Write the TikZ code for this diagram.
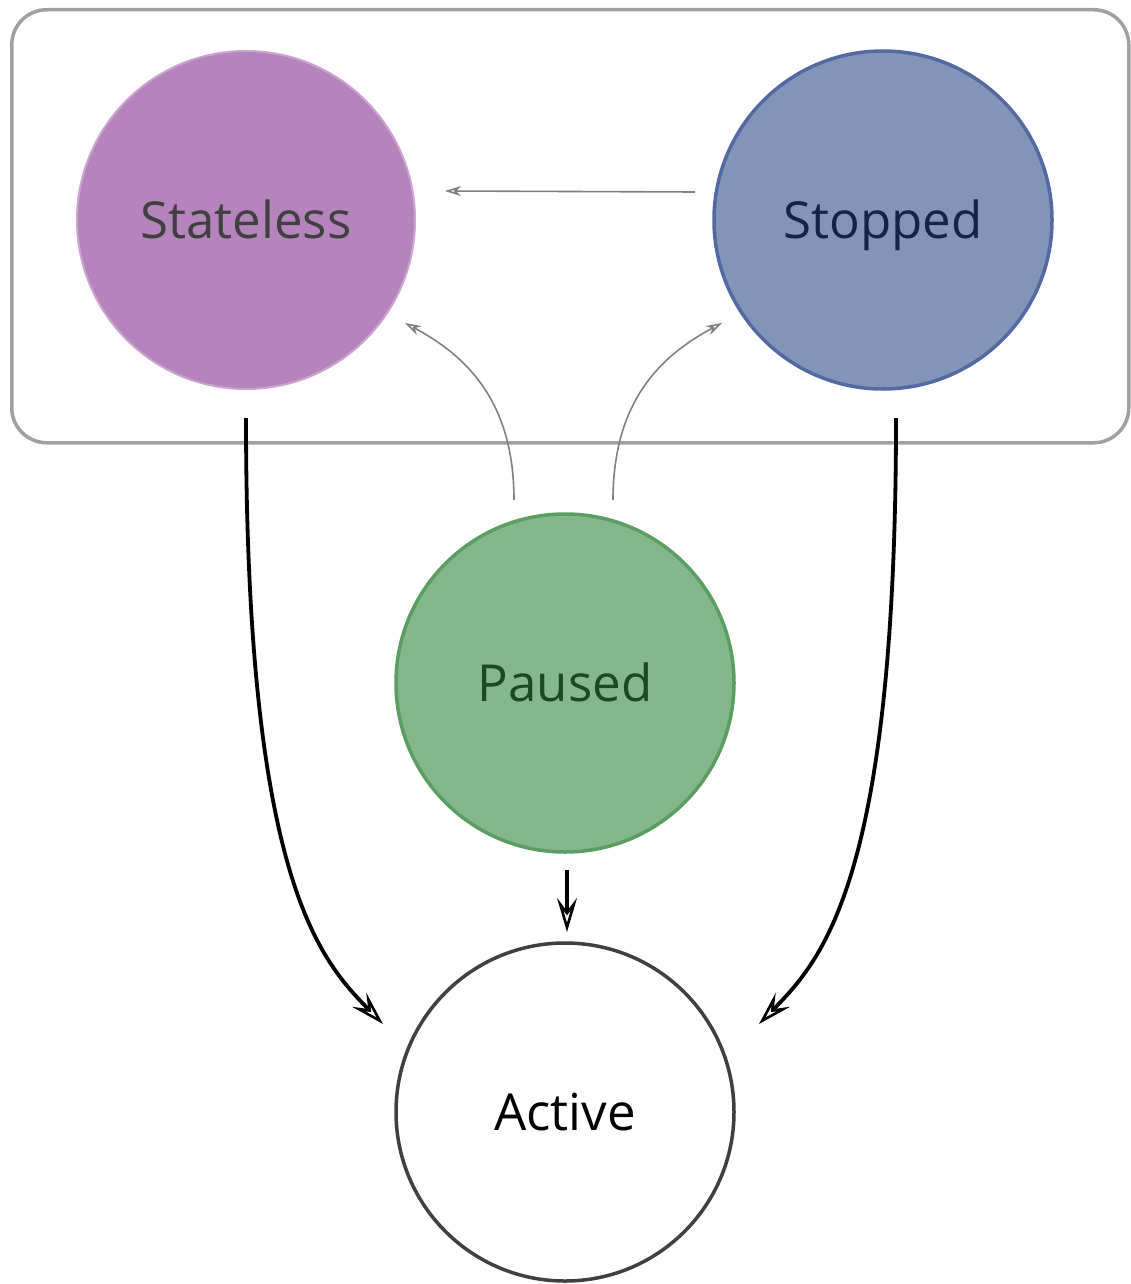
\documentclass[tikz,border=0pt]{standalone}
\usepackage{fontspec}
\setmainfont{Open Sans}
\usetikzlibrary{arrows.meta}
\definecolor{slFill}{HTML}{B684BC}
\definecolor{slDraw}{HTML}{CBA4CF}
\definecolor{slText}{HTML}{404040}
\definecolor{stFill}{HTML}{8294B8}
\definecolor{stDraw}{HTML}{5469A1}
\definecolor{stText}{HTML}{13244A}
\definecolor{paFill}{HTML}{84B78B}
\definecolor{paDraw}{HTML}{5A9E62}
\definecolor{paText}{HTML}{1B4A21}
\definecolor{acDraw}{HTML}{404040}
\definecolor{boxDraw}{HTML}{A0A0A0}
\definecolor{thinArrow}{HTML}{808080}
\begin{document}
\begin{tikzpicture}[x=1pt,y=-1pt,
  state/.style={circle,minimum size=338pt,inner sep=0pt,font=\fontsize{51}{55}\selectfont,text height=37pt,text depth=0pt},
  bigarrow/.style={line width=3.8pt,black,-{Stealth[open,length=34pt,width=20pt,inset=13pt,line width=2.6pt]}},
  smallarrow/.style={line width=1.6pt,thinArrow,-{Stealth[open,length=16pt,width=10pt,inset=5pt]}},
  groupbox/.style={draw=boxDraw,line width=3.5pt,rounded corners=35pt}
]
\useasboundingbox (0,0) rectangle (1131,1284);
\node[groupbox,minimum width=1117pt,minimum height=433pt,inner sep=0pt,anchor=north west] (box) at (10,8) {};
\node[state,fill=slFill,draw=slDraw,line width=2pt,text=slText] (stateless) at (246,220) {Stateless};
\node[state,fill=stFill,draw=stDraw,line width=3.5pt,text=stText] (stopped) at (883,220) {Stopped};
\node[state,fill=paFill,draw=paDraw,line width=3.5pt,text=paText] (paused) at (565,683) {Paused};
\node[state,fill=white,draw=acDraw,line width=3.5pt,text=black] (active) at (565,1112) {Active};
% connector end points
\coordinate (stopL) at (695,192);
\coordinate (slessR) at (445,191);
\coordinate (pauL) at (514,500);
\coordinate (slessB) at (405,323);
\coordinate (pauR) at (613,500);
\coordinate (stopB) at (722,323);
\coordinate (slessD) at (246,418);
\coordinate (actL) at (383,1024);
\coordinate (stopD) at (896,418);
\coordinate (actR) at (759,1024);
\coordinate (pauD) at (567,870);
\coordinate (actT) at (567,932);
\draw[smallarrow] (stopL) -- (slessR);
\draw[smallarrow] (pauL) .. controls (514,400) and (465,355) .. (slessB);
\draw[smallarrow] (pauR) .. controls (613,400) and (662,355) .. (stopB);
\draw[bigarrow] (slessD) .. controls (246,880) and (320,960) .. (actL);
\draw[bigarrow] (stopD) .. controls (896,880) and (822,960) .. (actR);
\draw[bigarrow] (pauD) -- (actT);
\end{tikzpicture}
\end{document}
